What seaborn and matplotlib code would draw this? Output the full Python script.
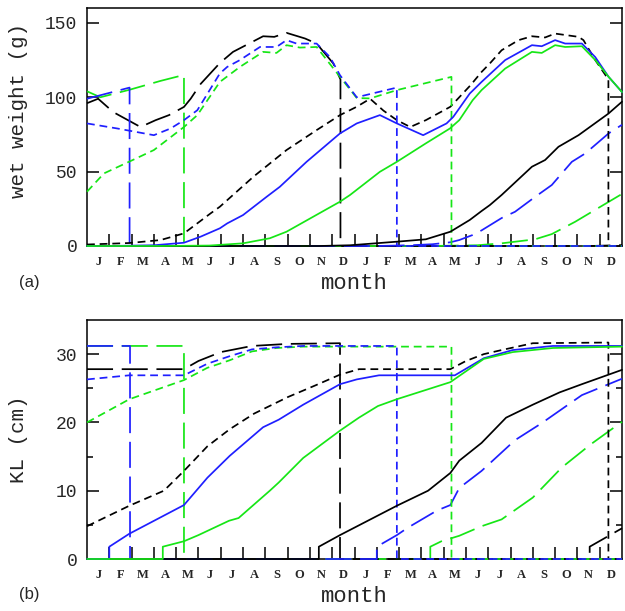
import numpy as np
import pandas as pd
import seaborn as sns
import matplotlib.pyplot as plt

# months on the x axis: 0 = start of first January, 24 = end of second December
month_letters = list("JFMAMJJASOND") * 2

# ---- (a) wet weight (g), (month, value) pairs, vertical drop = death of cohort
ww_black_long = [(0, 96), (0.5, 99), (1.18, 90), (2.4, 80), (3.08, 84.6), (3.68, 88), (4.35, 93.5),
                 (4.65, 99), (5.1, 109), (5.96, 123), (6.55, 130.5), (7.9, 141), (8.4, 140.6),
                 (8.95, 143.3), (9.78, 139.5), (10.3, 136.1), (11.05, 122.7), (11.37, 112),
                 (11.37, 0), (22.55, 0), (24, 0.6)]
ww_blue_long = [(0, 99), (1.91, 106.5), (1.91, 0), (13.0, 0), (14.5, 0.5), (15.5, 1.2), (16.3, 2.5),
                (16.7, 4), (17.3, 7.4), (17.7, 10.5), (18.6, 18.8), (19.2, 23), (20.1, 33),
                (20.85, 41), (21.75, 56.6), (22.35, 62.2), (23.4, 75.7), (24, 81.5)]
ww_green_long = [(0, 104), (0.6, 100), (1.9, 105), (3.3, 111), (4.35, 115), (4.35, 0), (15.4, 0),
                 (17.5, 0.5), (18.6, 1.8), (20.1, 4.5), (20.85, 8), (21.9, 16.3), (22.65, 23),
                 (24, 35)]
ww_black_short = [(0, 1), (1.9, 2), (3.3, 4), (4.35, 8.5), (5.55, 22), (5.96, 26.4), (7.46, 46.5),
                  (8.95, 64.5), (10.3, 77.9), (11.35, 88), (12.1, 93.6), (12.7, 99), (13.3, 91),
                  (13.9, 84.6), (14.5, 80), (15.2, 84.6), (16.3, 93.6), (17.2, 108), (17.7, 117),
                  (18.07, 122.7), (18.6, 131.6), (19.36, 138.4), (19.96, 141), (20.55, 140.2),
                  (21.0, 142.8), (22.05, 140.6), (22.27, 138.4), (22.8, 125), (23.39, 112),
                  (23.39, 0), (24, 0)]
ww_blue_short = [(0, 82.4), (1.36, 79), (3.0, 74.5), (3.75, 79), (4.35, 84.6), (4.95, 91.3),
                 (5.96, 116), (6.29, 120.4), (6.86, 125), (7.76, 133.8), (8.5, 133.8), (8.95, 138.4),
                 (9.4, 136.1), (10.3, 136.1), (10.9, 127), (11.35, 114.8), (12.1, 100), (13.9, 106.5),
                 (13.9, 0), (24, 0)]
ww_green_short = [(0, 36.5), (0.76, 48.8), (1.88, 56.6), (3.0, 64.5), (4.35, 80), (4.95, 88),
                  (5.96, 110.3), (6.86, 120.4), (7.9, 130.5), (8.5, 129.8), (8.95, 135), (9.55, 133.4),
                  (10.3, 133.8), (11.35, 113.7), (12.1, 99.5), (12.7, 99.2), (13.9, 104.8),
                  (16.35, 113.7), (16.35, 0), (24, 0)]
ww_black_solid = [(0, 0), (10.4, 0), (11.8, 0.5), (13.9, 2.9), (15.2, 4.5), (16.3, 9.6), (17.17, 17.5),
                  (17.7, 23.5), (18.07, 27.5), (18.6, 34.3), (19.96, 53.3), (20.55, 57.8),
                  (21.15, 66.7), (22.05, 74.5), (23.39, 89), (24, 97)]
ww_blue_solid = [(0, 0), (1.0, 0), (3.0, 0.5), (4.35, 2.2), (5.1, 6.3), (5.96, 11.9), (6.29, 15.2),
                 (7.0, 20.8), (8.06, 33.1), (8.65, 39.8), (9.85, 56.6), (11.35, 75.7), (12.1, 82.4),
                 (13.14, 88), (13.9, 82.4), (15.08, 74.5), (16.13, 82.4), (16.43, 86.8),
                 (17.17, 102.5), (17.7, 110.3), (18.76, 125), (19.96, 135), (20.4, 134.3),
                 (21.0, 138.4), (21.45, 136.1), (22.2, 136.1), (22.8, 127), (23.4, 113.7), (24, 103.5)]
ww_green_solid = [(0, 0), (3.4, 0), (5.5, 0.3), (7.0, 1.8), (8.2, 5.2), (8.95, 9.6), (10.15, 19.7),
                  (11.35, 29.8), (11.8, 34.3), (13.14, 49.9), (13.9, 56.6), (15.2, 69), (16.28, 79),
                  (16.7, 84.6), (17.3, 98), (17.7, 104.8), (18.76, 119.3), (19.96, 130.5),
                  (20.4, 129.8), (21.0, 135), (21.45, 133.8), (22.2, 134.3), (22.8, 125),
                  (23.4, 113.7), (24, 103.5)]

# ---- (b) KL (cm)
kl_black_long = [(0, 27.8), (4.35, 27.8), (5.0, 29.0), (6.0, 30.3), (7.4, 31.2), (9.0, 31.5),
                 (11.35, 31.6), (11.35, 0), (22.55, 0), (22.55, 1.8), (24, 4.5)]
kl_blue_long = [(0, 31.2), (1.93, 31.2), (1.93, 0), (13.0, 0), (13.0, 1.8), (13.9, 3.5), (14.4, 4.6),
                (15.7, 7.1), (16.3, 7.9), (16.7, 10.4), (17.7, 12.9), (19.2, 17.4), (20.4, 19.9),
                (22.2, 24.0), (24, 26.4)]
kl_green_long = [(0, 31.2), (4.35, 31.2), (4.35, 0), (15.4, 0), (15.4, 1.8), (15.9, 2.6), (16.7, 3.4),
                 (17.7, 4.8), (18.6, 5.8), (20.0, 9.0), (21.3, 13.4), (22.6, 16.8), (24, 20.1)]
kl_black_short = [(0, 4.8), (1.9, 7.8), (3.45, 10.0), (4.35, 12.9), (5.4, 16.5), (6.4, 19.0),
                  (7.5, 21.3), (9.0, 23.7), (10.3, 25.5), (11.35, 27.0), (12.2, 27.8), (16.3, 27.8),
                  (17.0, 29.0), (17.8, 30.0), (18.6, 30.6), (20.0, 31.6), (23.39, 31.7), (23.39, 0),
                  (24, 0)]
kl_blue_short = [(0, 26.3), (1.9, 26.9), (4.35, 26.9), (5.4, 28.6), (6.4, 29.7), (7.4, 30.7),
                 (8.5, 31.0), (9.7, 31.2), (13.9, 31.2), (13.9, 0), (24, 0)]
kl_green_short = [(0, 20.0), (1.9, 23.4), (4.35, 26.2), (5.4, 28.0), (6.4, 29.1), (7.4, 30.4),
                  (8.5, 30.9), (9.7, 31.1), (16.35, 31.1), (16.35, 0), (24, 0)]
kl_black_solid = [(0, 0), (10.4, 0), (10.4, 1.8), (11.35, 3.5), (13.9, 7.8), (15.3, 10.0),
                  (16.3, 12.6), (16.7, 14.4), (17.7, 17.0), (18.8, 20.7), (20.0, 22.6), (21.2, 24.4),
                  (22.2, 25.6), (24, 27.7)]
kl_blue_solid = [(0, 0), (1.0, 0), (1.0, 1.8), (1.9, 3.7), (4.35, 7.9), (5.4, 11.9), (6.4, 15.1),
                 (7.9, 19.3), (8.6, 20.4), (9.7, 22.6), (11.35, 25.6), (12.1, 26.3), (13.1, 26.9),
                 (16.5, 26.9), (17.8, 29.4), (19.1, 30.6), (20.9, 31.2), (24, 31.2)]
kl_green_solid = [(0, 0), (3.4, 0), (3.4, 1.8), (4.35, 2.6), (5.0, 3.5), (6.37, 5.6), (6.8, 6.0),
                  (8.2, 10.0), (8.6, 11.2), (9.7, 14.8), (11.35, 18.8), (12.2, 20.7), (13.05, 22.4),
                  (13.9, 23.4), (16.3, 25.9), (17.8, 29.3), (19.1, 30.3), (20.9, 30.9), (24, 31.1)]

BLACK, BLUE, GREEN = "black", "#1f1fff", "#16e616"
LONG, SHORT, SOLID = (0, (15, 5)), (0, (4.5, 2.8)), "-"

sns.set_theme(style="white")
plt.rcParams["font.family"] = ["Liberation Mono", "DejaVu Sans"]

fig = plt.figure(figsize=(6.25, 6.11), dpi=100)
ax_a = fig.add_axes([87 / 625, 1 - 246 / 611, 535 / 625, 238 / 611])
ax_b = fig.add_axes([87 / 625, 1 - 559 / 611, 535 / 625, 239 / 611])


def draw(ax, series):
    for pts, color, ls in series:
        df = pd.DataFrame(pts, columns=["month", "value"])
        sns.lineplot(data=df, x="month", y="value", ax=ax, color=color, linestyle=ls,
                     estimator=None, sort=False, lw=1.25, zorder=3, clip_on=False)


draw(ax_a, [(ww_green_long, GREEN, LONG), (ww_black_long, BLACK, LONG), (ww_blue_long, BLUE, LONG),
            (ww_black_short, BLACK, SHORT), (ww_green_short, GREEN, SHORT), (ww_blue_short, BLUE, SHORT),
            (ww_black_solid, BLACK, SOLID), (ww_blue_solid, BLUE, SOLID), (ww_green_solid, GREEN, SOLID)])
draw(ax_b, [(kl_green_long, GREEN, LONG), (kl_black_long, BLACK, LONG), (kl_blue_long, BLUE, LONG),
            (kl_black_short, BLACK, SHORT), (kl_green_short, GREEN, SHORT), (kl_blue_short, BLUE, SHORT),
            (kl_black_solid, BLACK, SOLID), (kl_blue_solid, BLUE, SOLID), (kl_green_solid, GREEN, SOLID)])

for ax in (ax_a, ax_b):
    ax.set_xlim(0, 24)
    ax.set_xticks(np.arange(1, 24))
    ax.set_xticklabels([])
    ax.set_xticks(np.arange(0.5, 24), minor=True)
    ax.set_xticklabels(month_letters, minor=True, fontsize=9, family="Liberation Serif",
                       fontweight="bold")
    ax.tick_params(axis="x", which="major", direction="in", length=8.5, width=1.1,
                   bottom=True, top=False, color="black")
    ax.tick_params(axis="x", which="minor", length=0, pad=7, bottom=True)
    ax.tick_params(axis="y", which="major", direction="in", length=8.5, width=1.1,
                   left=True, right=True, labelsize=13, pad=7, color="black")
    ax.tick_params(axis="y", which="minor", direction="in", length=4.5, width=1.1,
                   left=True, right=True, color="black")
    for s in ax.spines.values():
        s.set_visible(True)
        s.set_color("black")
        s.set_linewidth(1.1)
    ax.set_xlabel("month", fontsize=16, labelpad=4)

ax_a.set_ylim(0, 160)
ax_a.set_yticks([0, 50, 100, 150])
ax_a.set_ylabel("wet weight (g)", fontsize=15)
ax_a.yaxis.set_label_coords(-0.11, 0.57)

ax_b.set_ylim(0, 35)
ax_b.set_yticks([0, 10, 20, 30])
ax_b.set_yticks([5, 15, 25], minor=True)
ax_b.set_ylabel("KL (cm)", fontsize=15)
ax_b.yaxis.set_label_coords(-0.11, 0.5)

fig.text(29 / 625, 1 - 283 / 611, "(a)", fontsize=12, family="Liberation Sans", ha="center", va="center")
fig.text(29 / 625, 1 - 594 / 611, "(b)", fontsize=12, family="Liberation Sans", ha="center", va="center")

fig.savefig("out.png", dpi=100)
